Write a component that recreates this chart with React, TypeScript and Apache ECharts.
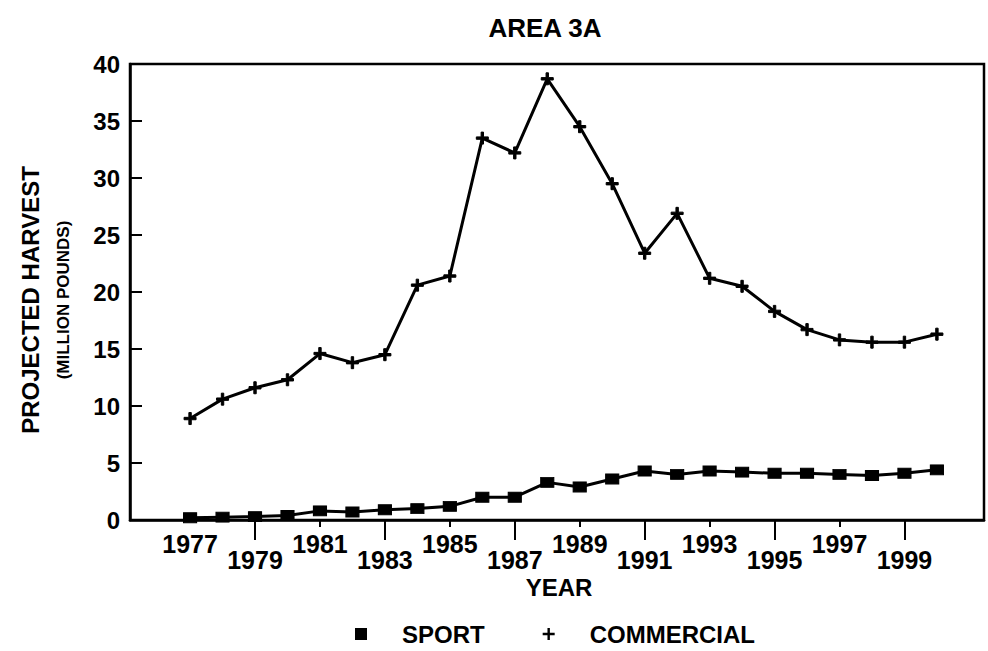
import React, { useEffect, useRef } from "react";
import * as echarts from "echarts";

const years = [1977, 1978, 1979, 1980, 1981, 1982, 1983, 1984, 1985, 1986, 1987, 1988, 1989, 1990, 1991, 1992, 1993, 1994, 1995, 1996, 1997, 1998, 1999, 2000];
const commercial = [8.9, 10.6, 11.6, 12.3, 14.6, 13.8, 14.5, 20.6, 21.4, 33.5, 32.2, 38.7, 34.5, 29.5, 23.4, 26.9, 21.2, 20.5, 18.3, 16.7, 15.8, 15.6, 15.6, 16.3];
const sport = [0.2, 0.25, 0.3, 0.4, 0.8, 0.7, 0.9, 1.0, 1.2, 2.0, 2.0, 3.3, 2.9, 3.6, 4.3, 4.0, 4.3, 4.2, 4.1, 4.1, 4.0, 3.9, 4.1, 4.4];
const upperYearLabels = [1977, 1981, 1985, 1989, 1993, 1997];
const lowerYearLabels = [1979, 1983, 1987, 1991, 1995, 1999];
const shortTicks = [1981, 1985, 1989, 1993, 1997];
const longTicks = [1979, 1983, 1987, 1991, 1995, 1999];

const FONT = "'Liberation Sans', Arial, Helvetica, sans-serif";
const PLUS = "path://M4,0H6V4H10V6H6V10H4V6H0V4H4Z";

export default function App() {
  const ref = useRef<HTMLDivElement>(null);
  useEffect(() => {
    if (!ref.current) return;
    const chart = echarts.init(ref.current, undefined, { renderer: "svg" });
    const xMin = 1975.15;
    const xMax = 2001.45;
    const axisCommon = {
      type: "value" as const,
      min: xMin,
      max: xMax,
      position: "bottom" as const,
      splitLine: { show: false },
    };
    const yearFmt = (v: number) => String(Math.round(v));
    chart.setOption({
      animation: false,
      backgroundColor: "#fff",
      title: {
        text: "AREA 3A",
        left: 540,
        top: 10,
        textAlign: "center",
        textStyle: { fontFamily: FONT, fontWeight: "bold", fontSize: 26, color: "#000" },
      },
      grid: {
        left: 130,
        right: 4,
        top: 64,
        bottom: 131,
        show: true,
        borderColor: "#000",
        borderWidth: 2.5,
        backgroundColor: "transparent",
      },
      legend: {
        left: 350,
        top: 617,
        itemGap: 58,
        itemWidth: 12,
        itemHeight: 12,
        textStyle: {
          fontFamily: FONT,
          fontWeight: "bold",
          fontSize: 24,
          color: "#000",
          padding: [0, 0, 0, 30],
        },
        data: [
          { name: "SPORT", icon: "rect", itemStyle: { color: "#000" } },
          { name: "COMMERCIAL", icon: PLUS, itemStyle: { color: "#000" } },
        ],
      },
      xAxis: [
        {
          ...axisCommon,
          axisLine: { show: true, lineStyle: { color: "#000", width: 2.5 } },
          axisTick: {
            show: true,
            customValues: shortTicks,
            length: 7,
            lineStyle: { color: "#000", width: 2 },
          },
          axisLabel: {
            customValues: upperYearLabels,
            formatter: yearFmt,
            margin: 11,
            fontFamily: FONT,
            fontWeight: "bold",
            fontSize: 25,
            color: "#000",
          },
        },
        {
          ...axisCommon,
          axisLine: { show: false },
          axisTick: {
            show: true,
            customValues: longTicks,
            length: 20,
            lineStyle: { color: "#000", width: 2 },
          },
          axisLabel: {
            customValues: lowerYearLabels,
            formatter: yearFmt,
            margin: 27,
            fontFamily: FONT,
            fontWeight: "bold",
            fontSize: 25,
            color: "#000",
          },
        },
      ],
      yAxis: {
        type: "value",
        min: 0,
        max: 40,
        interval: 5,
        splitLine: { show: false },
        axisLine: { show: true, lineStyle: { color: "#000", width: 2.5 } },
        axisTick: { show: true, inside: true, length: 12, lineStyle: { color: "#000", width: 2 } },
        axisLabel: {
          margin: 10,
          fontFamily: FONT,
          fontWeight: "bold",
          fontSize: 24,
          color: "#000",
        },
      },
      graphic: [
        {
          type: "text",
          x: 30,
          y: 300,
          rotation: Math.PI / 2,
          style: {
            text: "PROJECTED HARVEST",
            fontFamily: FONT,
            fontWeight: "bold",
            fontSize: 24,
            fill: "#000",
            textAlign: "center",
            textVerticalAlign: "middle",
          },
        },
        {
          type: "text",
          x: 63,
          y: 300,
          rotation: Math.PI / 2,
          style: {
            text: "(MILLION POUNDS)",
            fontFamily: FONT,
            fontWeight: "bold",
            fontSize: 17,
            fill: "#000",
            textAlign: "center",
            textVerticalAlign: "middle",
          },
        },
        {
          type: "text",
          x: 559,
          y: 587,
          style: {
            text: "YEAR",
            fontFamily: FONT,
            fontWeight: "bold",
            fontSize: 24,
            fill: "#000",
            textAlign: "center",
            textVerticalAlign: "middle",
          },
        },
      ],
      series: [
        {
          name: "SPORT",
          type: "line",
          xAxisIndex: 0,
          data: years.map((y, i) => [y, sport[i]]),
          symbol: "rect",
          symbolSize: [13, 10],
          showAllSymbol: true,
          lineStyle: { color: "#000", width: 3 },
          itemStyle: { color: "#000", borderColor: "#000" },
          z: 3,
        },
        {
          name: "COMMERCIAL",
          type: "line",
          xAxisIndex: 0,
          data: years.map((y, i) => [y, commercial[i]]),
          symbol: PLUS,
          symbolSize: 12,
          showAllSymbol: true,
          lineStyle: { color: "#000", width: 3 },
          itemStyle: { color: "#000", borderColor: "#000" },
          z: 3,
        },
      ],
    });
    return () => chart.dispose();
  }, []);
  return <div ref={ref} style={{ width: 988, height: 651, position: "absolute", left: 0, top: 0 }} />;
}
